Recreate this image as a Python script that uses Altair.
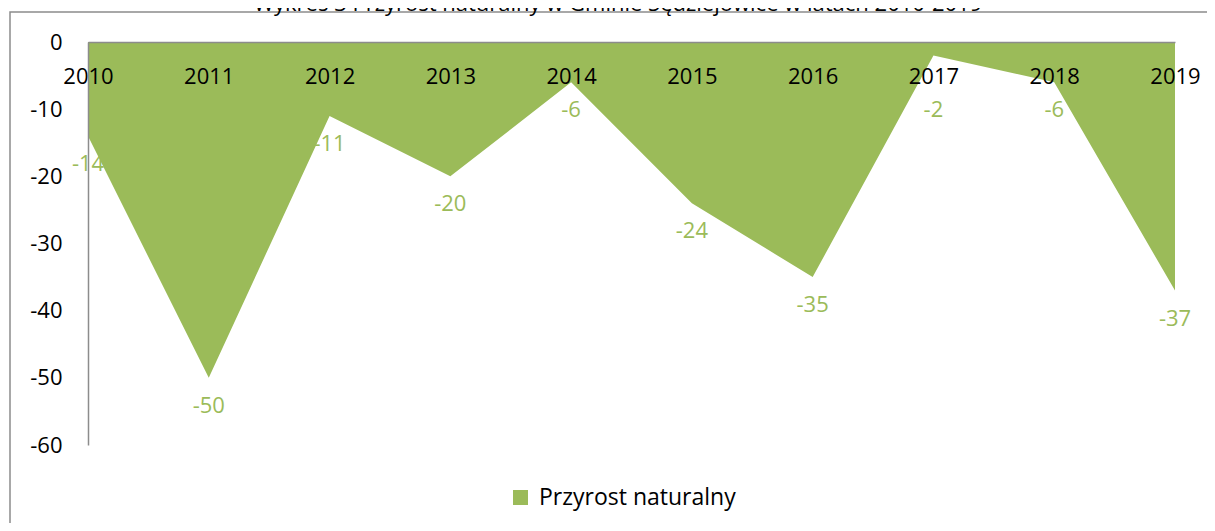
import altair as alt
import pandas as pd

YEARS = ["2010", "2011", "2012", "2013", "2014", "2015", "2016", "2017", "2018", "2019"]
VALUES = [-14, -50, -11, -20, -6, -24, -35, -2, -6, -37]
SERIES = "Przyrost naturalny"
TITLE = "Wykres 3 Przyrost naturalny w Gminie Sędziejowice w latach 2010-2019"
Y_TICKS = [0, -10, -20, -30, -40, -50, -60]

GREEN = "#9BBB59"
GRAY = "#8C8C8C"
FONT = "Open Sans"
FS = 22

df = pd.DataFrame({"rok": YEARS, "wartosc": VALUES, "seria": [SERIES] * len(YEARS)})
tdf = pd.DataFrame({"t": [TITLE]})

yscale = alt.Scale(domain=[-60, 0], nice=False)

x = alt.X(
    "rok:O",
    sort=YEARS,
    scale=alt.Scale(type="point", padding=0),
    axis=alt.Axis(
        orient="top", title=None, labelAngle=0, ticks=False, tickSize=0,
        domainColor=GRAY, domainWidth=1.5, labelPadding=-34,
        labelBaseline="middle", labelFont=FONT, labelFontSize=FS,
        labelColor="black", zindex=1,
    ),
)

y = alt.Y(
    "wartosc:Q",
    scale=yscale,
    axis=alt.Axis(
        values=Y_TICKS, title=None, grid=False, ticks=False, tickSize=0,
        labelPadding=26, domainColor=GRAY, domainWidth=1.5,
        labelFont=FONT, labelFontSize=FS, labelColor="black",
        labelExpr="'' + datum.value", zindex=1,
    ),
)

area = alt.Chart(df).mark_area(opacity=1).encode(
    x=x,
    y=y,
    color=alt.Color(
        "seria:N",
        scale=alt.Scale(range=[GREEN]),
        legend=alt.Legend(
            title=None, orient="none", legendX=421, legendY=444,
            symbolType="square", symbolSize=225, symbolStrokeWidth=0,
            symbolOpacity=1, labelLimit=0,
            labelFont=FONT, labelFontSize=23, labelColor="black",
            labelOffset=7, padding=0,
        ),
    ),
)

labels = alt.Chart(df).transform_calculate(
    lab="min(datum.wartosc, -6)", txt="'' + datum.wartosc"
).mark_text(
    dy=28, font=FONT, fontSize=FS, color=GREEN, baseline="middle", align="center"
).encode(
    x=alt.X("rok:O", sort=YEARS),
    y=alt.Y("lab:Q", scale=yscale),
    text="txt:N",
)

frame = alt.Chart(tdf).mark_rect(fill=None, stroke=GRAY, strokeWidth=1.5).encode(
    x=alt.value(-78), x2=alt.value(1300), y=alt.value(-30), y2=alt.value(800)
)

title = alt.Chart(tdf).mark_text(
    font=FONT, fontSize=FS, color="black", align="center", baseline="alphabetic"
).encode(text="t:N", x=alt.value(530), y=alt.value(-31))

chart = alt.layer(frame, area, labels, title).properties(
    width=1087,
    height=403,
    autosize=alt.AutoSizeParams(type="none"),
    padding={"left": 80, "top": 34, "right": 32, "bottom": 78},
    background="white",
).configure_view(stroke=None)

chart.save("out.html", embed_options={"renderer": "svg", "actions": False})
